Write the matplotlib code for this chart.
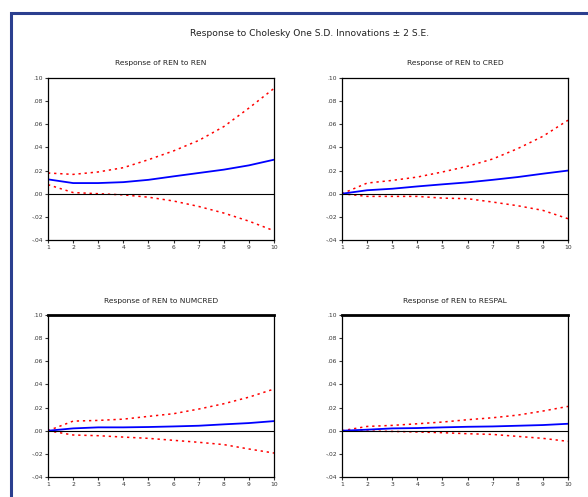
import matplotlib.pyplot as plt
from matplotlib.patches import Rectangle

periods = [1, 2, 3, 4, 5, 6, 7, 8, 9, 10]

titles = ['Response of REN to REN', 'Response of REN to CRED',
          'Response of REN to NUMCRED', 'Response of REN to RESPAL']

resp_ren = [0.0124, 0.0092, 0.0092, 0.0100, 0.0120, 0.0150, 0.0179, 0.0208, 0.0245, 0.0294]
up_ren = [0.0179, 0.0167, 0.0188, 0.0225, 0.0294, 0.0370, 0.0460, 0.0580, 0.0740, 0.0910]
lo_ren = [0.0078, 0.0010, 0.0000, -0.0010, -0.0030, -0.0063, -0.0110, -0.0167, -0.0237, -0.0320]

resp_cred = [0.0, 0.0030, 0.0043, 0.0063, 0.0081, 0.0098, 0.0120, 0.0144, 0.0173, 0.0200]
up_cred = [0.0, 0.0092, 0.0115, 0.0144, 0.0188, 0.0237, 0.0300, 0.0390, 0.0496, 0.0635]
lo_cred = [0.0, -0.0023, -0.0023, -0.0023, -0.0038, -0.0043, -0.0072, -0.0104, -0.0144, -0.0216]

resp_numcred = [0.0, 0.0020, 0.0029, 0.0029, 0.0032, 0.0037, 0.0043, 0.0055, 0.0066, 0.0083]
up_numcred = [0.0, 0.0083, 0.0089, 0.0100, 0.0124, 0.0147, 0.0187, 0.0233, 0.0290, 0.0360]
lo_numcred = [0.0, -0.0037, -0.0043, -0.0055, -0.0066, -0.0083, -0.0100, -0.0120, -0.0158, -0.0193]

resp_respal = [0.0, 0.0009, 0.0020, 0.0023, 0.0029, 0.0034, 0.0037, 0.0043, 0.0049, 0.0060]
up_respal = [0.0, 0.0037, 0.0046, 0.0060, 0.0075, 0.0095, 0.0112, 0.0135, 0.0170, 0.0210]
lo_respal = [0.0, -0.0003, -0.0006, -0.0011, -0.0017, -0.0026, -0.0032, -0.0049, -0.0066, -0.0092]

responses = [resp_ren, resp_cred, resp_numcred, resp_respal]
uppers = [up_ren, up_cred, up_numcred, up_respal]
lowers = [lo_ren, lo_cred, lo_numcred, lo_respal]

yticks = [-0.04, -0.02, 0.0, 0.02, 0.04, 0.06, 0.08, 0.10]
ytick_labels = ['-.04', '-.02', '.00', '.02', '.04', '.06', '.08', '.10']

W, H = 588, 497
fig = plt.figure(figsize=(W / 100, H / 100), dpi=100)

# blue frame around the figure
fig.patches.append(Rectangle((11 / W, -0.05), 1.1, (H - 13) / H + 0.05,
                             transform=fig.transFigure, fill=False,
                             edgecolor='#2b3f8f', linewidth=2.2))

fig.text(310 / W, 1 - 33 / H, 'Response to Cholesky One S.D. Innovations \u00b1 2 S.E.',
         ha='center', va='center', fontsize=6.6, color='#222222')

# axes boxes in pixels: left, top, right, bottom
boxes = [(48, 78, 274, 240), (342, 78, 568, 240),
         (48, 315, 274, 477), (342, 315, 568, 477)]

for i, (l, t, r, b) in enumerate(boxes):
    ax = fig.add_axes([l / W, 1 - b / H, (r - l) / W, (b - t) / H])
    ax.plot(periods, uppers[i], color='red', linestyle=(0, (1.5, 2.5)), linewidth=1.1)
    ax.plot(periods, lowers[i], color='red', linestyle=(0, (1.5, 2.5)), linewidth=1.1)
    ax.plot(periods, responses[i], color='#0000ff', linewidth=1.3)
    ax.axhline(0, color='black', linewidth=0.8)
    ax.set_xlim(1, 10)
    ax.set_ylim(-0.04, 0.10)
    ax.set_xticks(periods)
    ax.set_yticks(yticks)
    ax.set_yticklabels(ytick_labels)
    ax.tick_params(labelsize=4.3, length=2, width=0.8, pad=1.5, colors='#333333')
    for s in ax.spines.values():
        s.set_linewidth(0.9)
    if i >= 2:
        ax.spines['top'].set_linewidth(2.0)
    ax.set_title(titles[i], fontsize=5.4, color='#222222', pad=9)

fig.savefig('out.png', dpi=100)
